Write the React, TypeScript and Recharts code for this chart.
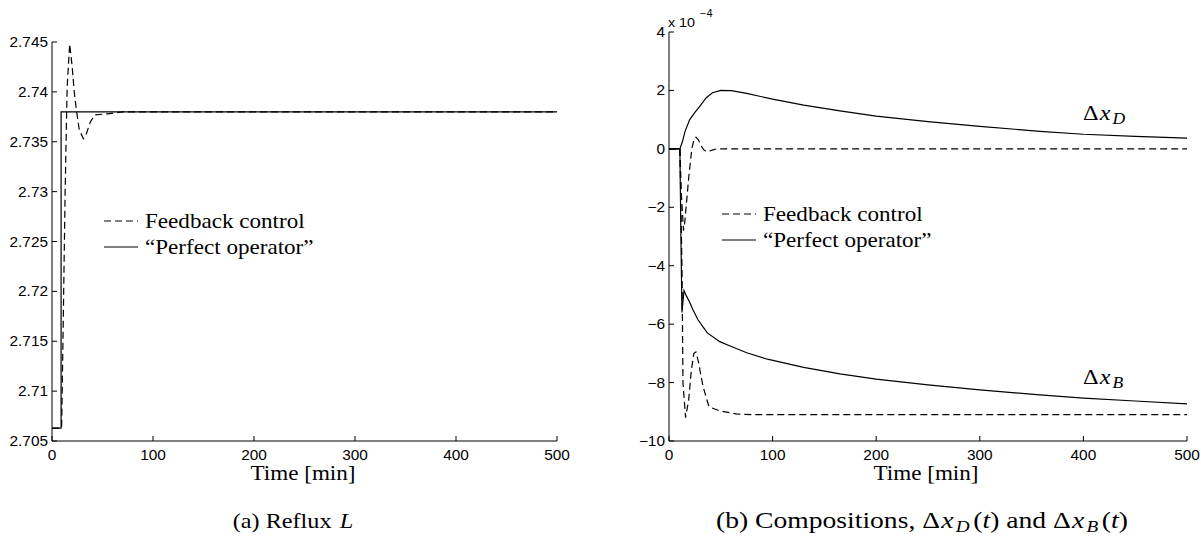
import React from 'react';
import { LineChart, Line, XAxis, YAxis } from 'recharts';

const timeTicks = [0, 100, 200, 300, 400, 500];
const refluxTicks = [2.705, 2.71, 2.715, 2.72, 2.725, 2.73, 2.735, 2.74, 2.745];
const compTicks = [-10, -8, -6, -4, -2, 0, 2, 4];

// (a) reflux L
const refluxFbTime = [0, 9.5, 11, 13, 15, 17.5, 20, 22, 24.4, 27, 31, 34, 38, 42.6, 55, 70, 500];
const refluxFb = [2.7063, 2.7063, 2.716, 2.73, 2.7405, 2.7448, 2.7425, 2.74, 2.738, 2.7362, 2.7353, 2.7358, 2.737, 2.7377, 2.7378, 2.738, 2.738];
const refluxOpTime = [0, 9, 9, 500];
const refluxOp = [2.7063, 2.7063, 2.738, 2.738];

// (b) composition deviations, in units of 1e-4
const xdFbTime = [0, 10.5, 12, 14, 15, 17, 19, 22, 24, 26, 28.5, 31, 34, 37, 41, 46, 500];
const xdFb = [0, 0, -1.6, -2.8, -2.6, -1.8, -1.0, 0, 0.3, 0.4, 0.3, 0.1, -0.05, -0.1, -0.05, 0, 0];
const xdOpTime = [0, 10.5, 13, 15.5, 20, 25, 30, 36, 42, 50, 60, 75, 100, 130, 165, 200, 250, 300, 358, 400, 450, 500];
const xdOp = [0, 0, 0.25, 0.6, 1.0, 1.25, 1.47, 1.75, 1.92, 2.0, 1.99, 1.9, 1.7, 1.5, 1.3, 1.12, 0.93, 0.77, 0.6, 0.5, 0.43, 0.37];
const xbFbTime = [0, 10.5, 12.5, 13.5, 16, 19, 21.5, 24, 26, 28.5, 31, 33, 38.6, 49, 65, 80, 500];
const xbFb = [0, 0, -4, -8, -9.2, -8.6, -7.6, -7.0, -6.95, -7.3, -7.8, -8.15, -8.83, -8.97, -9.07, -9.1, -9.1];
const xbOpTime = [0, 10.5, 11.5, 12.5, 14.5, 17, 20, 23, 28, 33, 37, 49, 59, 75, 95, 130, 165, 200, 250, 300, 358, 400, 450, 500];
const xbOp = [0, 0, -3, -5.6, -4.85, -5.05, -5.25, -5.5, -5.85, -6.1, -6.3, -6.6, -6.75, -6.98, -7.2, -7.48, -7.7, -7.88, -8.08, -8.25, -8.42, -8.53, -8.63, -8.73];

const toPoints = (t: number[], v: number[]) => t.map((time, i) => ({ time, value: v[i] }));

const SANS = '"Liberation Sans", Arial, sans-serif';
const SERIF = '"Liberation Serif", "Times New Roman", serif';
const STRETCH = 1.1;

const fmt = (v: number) => String(Number(v.toFixed(4))).replace('-', '\u2212');

function BottomTick({ x, y, payload }: any) {
  return (
    <g>
      <line x1={x} y1={y} x2={x} y2={y - 5} stroke="#000" />
      <text transform={`translate(${x},${y + 19}) scale(${STRETCH},1)`} textAnchor="middle" fontSize={14} fontFamily={SANS} fill="#000">
        {fmt(payload.value)}
      </text>
    </g>
  );
}

function LeftTick({ x, y, payload }: any) {
  return (
    <g>
      <line x1={x} y1={y} x2={x + 5} y2={y} stroke="#000" />
      <text transform={`translate(${x - 4},${y + 5}) scale(${STRETCH},1)`} textAnchor="end" fontSize={14} fontFamily={SANS} fill="#000">
        {fmt(payload.value)}
      </text>
    </g>
  );
}

function TopTick({ x, y }: any) {
  return <line x1={x} y1={y} x2={x} y2={y + 5} stroke="#000" />;
}

function RightTick({ x, y }: any) {
  return <line x1={x} y1={y} x2={x - 5} y2={y} stroke="#000" />;
}

const lineProps = {
  dataKey: 'value',
  type: 'linear' as const,
  stroke: '#000',
  strokeWidth: 1.2,
  dot: false,
  activeDot: false,
  isAnimationActive: false,
};

function Txt({ x, y, size, anchor = 'start', family = SERIF, stretch = STRETCH, children }: any) {
  return (
    <text transform={`translate(${x},${y}) scale(${stretch},1)`} textAnchor={anchor} fontSize={size} fontFamily={family} fill="#000">
      {children}
    </text>
  );
}

function LegendBox({ x, y }: { x: number; y: number }) {
  return (
    <g>
      <line x1={x} y1={y} x2={x + 34} y2={y} stroke="#000" strokeWidth={1.2} strokeDasharray="7 4" />
      <Txt x={x + 41} y={y + 7} size={21}>Feedback control</Txt>
      <line x1={x} y1={y + 26} x2={x + 34} y2={y + 26} stroke="#000" strokeWidth={1.2} />
      <Txt x={x + 41} y={y + 33} size={21}>{'\u201CPerfect operator\u201D'}</Txt>
    </g>
  );
}

function DeltaLabel({ x, y, sub }: { x: number; y: number; sub: string }) {
  return (
    <Txt x={x} y={y} size={22}>
      <tspan>Δ</tspan>
      <tspan fontStyle="italic" dx={1}>x</tspan>
      <tspan fontStyle="italic" fontSize={16} dx={2} dy={4}>{sub}</tspan>
    </Txt>
  );
}

export default function App() {
  return (
    <div style={{ position: 'absolute', left: 0, top: 0, width: 1201, height: 539, background: '#fff' }}>
      <div style={{ position: 'absolute', left: 0, top: 0 }}>
        <LineChart width={600} height={539} margin={{ top: 42, right: 43, bottom: 68, left: 0 }}>
          <XAxis dataKey="time" type="number" domain={[0, 500]} ticks={timeTicks} height={30}
            tickSize={0} tickMargin={0} tickLine={false} axisLine={{ stroke: '#000' }} tick={<BottomTick />} />
          <XAxis xAxisId="top" orientation="top" type="number" domain={[0, 500]} ticks={timeTicks} height={0}
            tickSize={0} tickMargin={0} tickLine={false} axisLine={{ stroke: '#000' }} tick={<TopTick />} />
          <YAxis type="number" domain={[2.705, 2.745]} ticks={refluxTicks} width={52}
            tickSize={0} tickMargin={0} tickLine={false} axisLine={{ stroke: '#000' }} tick={<LeftTick />} />
          <YAxis yAxisId="right" orientation="right" type="number" domain={[2.705, 2.745]} ticks={refluxTicks} width={0}
            tickSize={0} tickMargin={0} tickLine={false} axisLine={{ stroke: '#000' }} tick={<RightTick />} />
          <Line {...lineProps} data={toPoints(refluxFbTime, refluxFb)} strokeDasharray="7 4" />
          <Line {...lineProps} data={toPoints(refluxOpTime, refluxOp)} />
        </LineChart>
      </div>
      <div style={{ position: 'absolute', left: 600, top: 0 }}>
        <LineChart width={601} height={539} margin={{ top: 32, right: 14, bottom: 68, left: 0 }}>
          <XAxis dataKey="time" type="number" domain={[0, 500]} ticks={timeTicks} height={30}
            tickSize={0} tickMargin={0} tickLine={false} axisLine={{ stroke: '#000' }} tick={<BottomTick />} />
          <XAxis xAxisId="top" orientation="top" type="number" domain={[0, 500]} ticks={timeTicks} height={0}
            tickSize={0} tickMargin={0} tickLine={false} axisLine={{ stroke: '#000' }} tick={<TopTick />} />
          <YAxis type="number" domain={[-10, 4]} ticks={compTicks} width={69}
            tickSize={0} tickMargin={0} tickLine={false} axisLine={{ stroke: '#000' }} tick={<LeftTick />} />
          <YAxis yAxisId="right" orientation="right" type="number" domain={[-10, 4]} ticks={compTicks} width={0}
            tickSize={0} tickMargin={0} tickLine={false} axisLine={{ stroke: '#000' }} tick={<RightTick />} />
          <Line {...lineProps} data={toPoints(xdFbTime, xdFb)} strokeDasharray="7 4" />
          <Line {...lineProps} data={toPoints(xbFbTime, xbFb)} strokeDasharray="7 4" />
          <Line {...lineProps} data={toPoints(xdOpTime, xdOp)} />
          <Line {...lineProps} data={toPoints(xbOpTime, xbOp)} />
        </LineChart>
      </div>
      <svg width={1201} height={539} style={{ position: 'absolute', left: 0, top: 0, pointerEvents: 'none' }}>
        <LegendBox x={104} y={221} />
        <LegendBox x={722} y={214} />
        <Txt x={303} y={480} size={21} anchor="middle">Time [min]</Txt>
        <Txt x={926} y={480} size={21} anchor="middle">Time [min]</Txt>
        <Txt x={293} y={528} size={22} anchor="middle">
          (a) Reflux <tspan fontStyle="italic" dx={2}>L</tspan>
        </Txt>
        <Txt x={922} y={528} size={23} stretch={1.2} anchor="middle">
          (b) Compositions, Δ<tspan fontStyle="italic" dx={1}>x</tspan>
          <tspan fontStyle="italic" fontSize={16} dx={2} dy={4}>D</tspan>
          <tspan dy={-4} dx={3}>(</tspan><tspan fontStyle="italic">t</tspan>) and Δ<tspan fontStyle="italic" dx={1}>x</tspan>
          <tspan fontStyle="italic" fontSize={16} dx={2} dy={4}>B</tspan>
          <tspan dy={-4} dx={3}>(</tspan><tspan fontStyle="italic">t</tspan>)
        </Txt>
        <Txt x={668} y={27} size={13} family={SANS}>x 10</Txt>
        <Txt x={700} y={17} size={10} family={SANS}>{'\u22124'}</Txt>
        <DeltaLabel x={1083} y={120} sub="D" />
        <DeltaLabel x={1083} y={384} sub="B" />
      </svg>
    </div>
  );
}
